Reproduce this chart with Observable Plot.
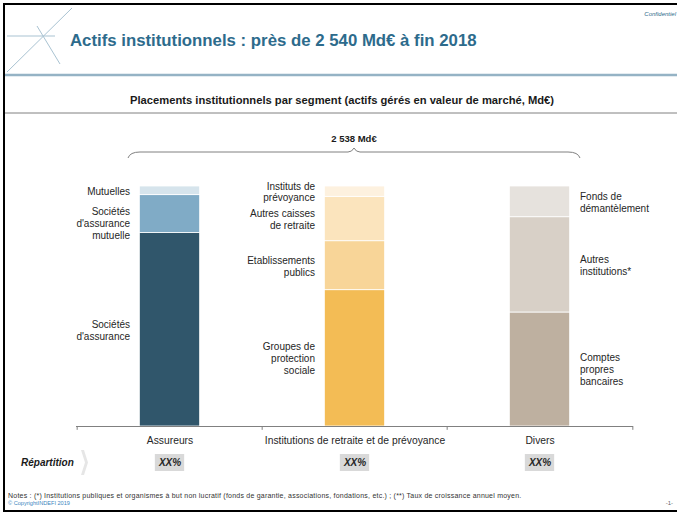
<!DOCTYPE html>
<html><head><meta charset="utf-8">
<script src="https://cdn.jsdelivr.net/npm/d3@7"></script>
<script src="https://cdn.jsdelivr.net/npm/@observablehq/plot@0.6"></script>
<style>
html,body{margin:0;padding:0;background:#fff;}
body{width:677px;height:515px;overflow:hidden;position:relative;font-family:"Liberation Sans",Arial,sans-serif;}
.t{position:absolute;white-space:nowrap;}
#main,#rep{position:absolute;left:0;}
#main{top:170px;} #rep{top:454px;}
</style></head><body>
<script>
// ---- data ----
const categories = ["Assureurs", "Institutions de retraite et de prévoyance", "Divers"];
const segments = ["Sociétés d'assurance", "Sociétés d'assurance mutuelle", "Mutuelles",
  "Groupes de protection sociale", "Etablissements publics", "Autres caisses de retraite", "Instituts de prévoyance",
  "Comptes propres bancaires", "Autres institutions*", "Fonds de démantèlement"];
const segmentCategory = ["Assureurs", "Assureurs", "Assureurs",
  "Institutions de retraite et de prévoyance", "Institutions de retraite et de prévoyance",
  "Institutions de retraite et de prévoyance", "Institutions de retraite et de prévoyance",
  "Divers", "Divers", "Divers"];
const shares = [80.6, 15.8, 3.6, 56.8, 20.4, 18.5, 4.3, 47.5, 39.7, 12.8]; // % of each segment bar
const segmentLabels = ["Sociétés\nd'assurance", "Sociétés\nd'assurance\nmutuelle", "Mutuelles",
  "Groupes de\nprotection\nsociale", "Etablissements\npublics", "Autres caisses\nde retraite", "Instituts de\nprévoyance",
  "Comptes\npropres\nbancaires", "Autres\ninstitutions*", "Fonds de\ndémantèlement"];
const repartition = ["XX%", "XX%", "XX%"];
const totalMd = 2538;

// ---- styles ----
const palette = ["#30566b", "#80abc6", "#d6e4ec", "#f3bc55", "#f8d598", "#fbe4bd", "#fdf1df", "#beb0a0", "#d8d0c7", "#e6e2dd"];
const FONT = "'Liberation Sans', Arial, sans-serif";
const X0 = 76, X1 = 633, W = 677;
const bw = (X1 - X0) / categories.length;
const barW = 61;
const inset = (bw - barW) / 2;

// rows with midpoints for labels
const cum = {};
const rows = segments.map((s, i) => {
  const c = segmentCategory[i];
  const y1 = cum[c] || 0, y2 = y1 + shares[i];
  cum[c] = y2;
  return {category: c, segment: s, share: shares[i], label: segmentLabels[i], mid: (y1 + y2) / 2};
});

const txt = {fill: "#262626", fontSize: 10, lineHeight: 1.2};
const main = Plot.plot({
  width: W, height: 281,
  marginLeft: X0, marginRight: W - X1, marginTop: 16, marginBottom: 25,
  x: {domain: categories, padding: 0, axis: null},
  y: {domain: [0, 100], axis: null},
  color: {domain: segments, range: palette},
  style: {fontFamily: FONT, fontSize: "10px", background: "transparent", overflow: "visible", color: "#262626"},
  marks: [
    Plot.barY(rows, Plot.stackY({x: "category", y: "share", fill: "segment", insetLeft: inset, insetRight: inset, stroke: "#fff", strokeWidth: 0.8})),
    Plot.ruleY([0], {stroke: "#808080"}),
    Plot.ruleX(categories, {x: d => d, dx: -bw / 2, y1: 0, y2: -1.6, stroke: "#808080"}),
    Plot.ruleX([categories[categories.length - 1]], {x: d => d, dx: bw / 2, y1: 0, y2: -1.6, stroke: "#808080"}),
    Plot.axisX({tickSize: 0, tickPadding: 10, fontSize: 10.3, fill: "#262626", label: null}),
    Plot.text(rows.filter(d => d.category !== "Divers" && d.segment !== "Sociétés d'assurance mutuelle"),
      {x: "category", y: "mid", text: "label", dx: -40, textAnchor: "end", ...txt}),
    Plot.text(rows.filter(d => d.segment === "Sociétés d'assurance mutuelle"),
      {x: "category", y: "mid", text: "label", dx: -40, dy: 9, textAnchor: "end", ...txt}),
    Plot.text(rows.filter(d => d.category === "Divers"),
      {x: "category", y: "mid", text: "label", dx: 40, textAnchor: "start", ...txt})
  ]
});
main.id = "main";
document.body.appendChild(main);

const rep = Plot.plot({
  width: W, height: 17,
  marginLeft: X0, marginRight: W - X1, marginTop: 0, marginBottom: 0,
  x: {domain: categories, padding: 0, axis: null},
  style: {fontFamily: FONT, background: "transparent", overflow: "visible"},
  marks: [
    Plot.cell(categories, {x: d => d, fill: "#d9d9d9", insetLeft: (bw - 30) / 2, insetRight: (bw - 30) / 2}),
    Plot.text(categories, {x: d => d, text: (d, i) => repartition[i], fontWeight: "bold", fontStyle: "italic", fontSize: 10, fill: "#262626"})
  ]
});
rep.id = "rep";
document.body.appendChild(rep);

// ---- page furniture ----
function addText(str, x, baseline, fs, css, anchor) {
  const d = document.createElement("div");
  d.className = "t";
  d.textContent = str;
  d.style.fontSize = fs + "px";
  d.style.lineHeight = fs + "px";
  d.style.top = (baseline - 0.8465 * fs) + "px";
  if (anchor === "middle") { d.style.left = x + "px"; d.style.transform = "translateX(-50%)"; }
  else if (anchor === "end") { d.style.right = (W - x) + "px"; }
  else d.style.left = x + "px";
  Object.assign(d.style, css || {});
  document.body.appendChild(d);
  return d;
}
const fmt = n => String(n).replace(/\B(?=(\d{3})+(?!\d))/g, " ");

addText("Actifs institutionnels : près de 2 540 Md€ à fin 2018", 70, 47, 16.8, {fontWeight: "bold", color: "#2d6b8c"});
addText("Confidentiel", 676, 16, 6, {fontStyle: "italic", color: "#2d6b8c"}, "end");
addText("Placements institutionnels par segment (actifs gérés en valeur de marché, Md€)", 342, 104.5, 11.2, {fontWeight: "bold", color: "#1a1a1a"}, "middle");
addText(fmt(totalMd) + " Md€", 354, 142.5, 9.5, {fontWeight: "bold", color: "#1a1a1a"}, "middle");
addText("Répartition", 21, 466.6, 10, {fontWeight: "bold", fontStyle: "italic", color: "#1a1a1a"});
addText("Notes : (*) Institutions publiques et organismes à but non lucratif (fonds de garantie, associations, fondations, etc.) ; (**) Taux de croissance annuel moyen.", 8, 498, 7, {color: "#333", letterSpacing: "0.22px"});
addText("© CopyrightINDEFI 2019", 8, 506, 5.6, {color: "#3c86c0"});
addText("-1-", 673, 505, 6, {color: "#666"}, "end");

const NS = "http://www.w3.org/2000/svg";
const deco = document.createElementNS(NS, "svg");
deco.setAttribute("width", W); deco.setAttribute("height", 515);
deco.style.cssText = "position:absolute;left:0;top:0;pointer-events:none";
deco.innerHTML = `
  <rect x="4" y="4" width="690" height="507" fill="none" stroke="#000" stroke-width="2"/>
  <g stroke="#a9c3d2" stroke-width="1" fill="none">
    <line x1="7" y1="72" x2="72" y2="8"/>
    <line x1="37" y1="26" x2="60" y2="64"/>
    <line x1="7" y1="36" x2="55" y2="36"/>
  </g>
  <line x1="5" y1="75" x2="677" y2="75" stroke="#95b3c5" stroke-width="2.5"/>
  <line x1="5" y1="113" x2="677" y2="113" stroke="#808080" stroke-width="1"/>
  <path d="M128,158 Q130,152 140,152 L348,152 Q352,152 354,148 Q356,152 360,152 L568,152 Q578,152 580,158" fill="none" stroke="#808080" stroke-width="1"/>
  <polygon points="81,450 84,450 88,462.5 84,475 81,475 85,462.5" fill="#e6e6e6"/>
`;
document.body.appendChild(deco);
</script>
</body></html>
